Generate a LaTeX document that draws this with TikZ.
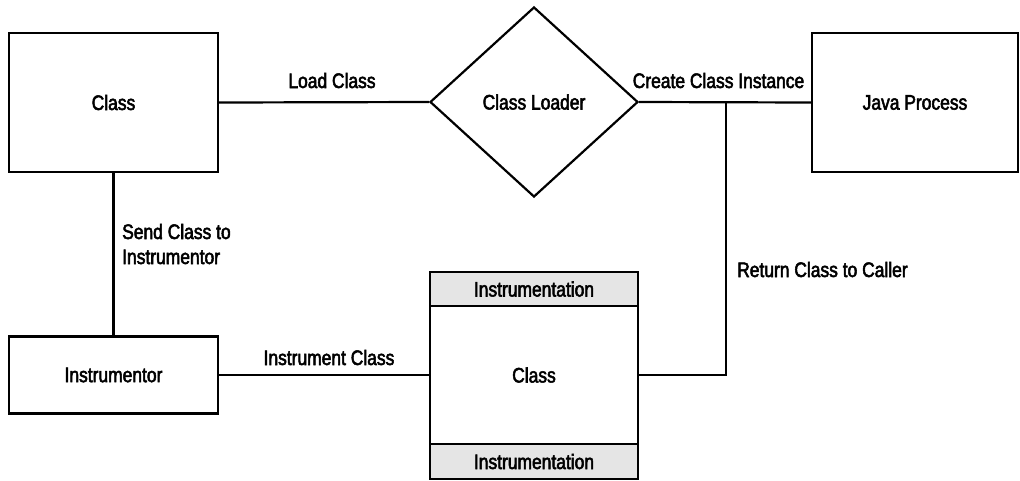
\documentclass[tikz,border=0pt]{standalone}
\usepackage{fontspec}
\setmainfont{Liberation Sans}[FakeStretch=0.83,FakeBold=2.5]
\usetikzlibrary{shapes.geometric}
\begin{document}
\begin{tikzpicture}[x=1pt,y=-1pt,
  every node/.style={font=\fontsize{21}{25}\selectfont},
  box/.style={draw,line width=2.2pt,rectangle,inner sep=0pt,align=center},
  band/.style={box,fill=black!10},
  conn/.style={line width=2.2pt},
  lbl/.style={inner sep=0pt}]
\useasboundingbox (0,0) rectangle (1020,480);
% nodes
\node[box,minimum width=209pt,minimum height=139pt] (cls) at (113.5,102.5) {Class};
\node[draw,line width=2.2pt,diamond,inner sep=0pt,minimum width=208pt,minimum height=190pt] (loader) at (534,102) {Class Loader};
\node[box,minimum width=206pt,minimum height=139pt] (java) at (915,102.5) {Java Process};
\node[box,minimum width=209pt,minimum height=77pt] (instr) at (113.5,375) {Instrumentor};
\node[band,minimum width=208pt,minimum height=34pt] (itop) at (534,289) {Instrumentation};
\node[box,minimum width=208pt,minimum height=138pt] (icls) at (534,375) {Class};
\node[band,minimum width=208pt,minimum height=35pt] (ibot) at (534,461.5) {Instrumentation};
\coordinate (jn) at (726,102);
% connectors
\draw[conn] (cls.east) -- (loader.west);
\draw[conn] (loader.east) -- (java.west);
\draw[conn] (cls.south) -- (instr.north);
\draw[conn] (instr.east) -- (icls.west);
\draw[conn] (icls.east) -| (jn);
% labels
\node[lbl,anchor=base] (lload) at (332,88) {Load Class};
\node[lbl,anchor=base] (lcreate) at (718.5,88) {Create Class Instance};
\node[lbl,anchor=west,align=left] (lsend) at (122,244) {Send Class to\\Instrumentor};
\node[lbl,anchor=base] (linstr) at (329,365) {Instrument Class};
\node[lbl,anchor=base west] (lret) at (737,277) {Return Class to Caller};
\end{tikzpicture}
\end{document}
